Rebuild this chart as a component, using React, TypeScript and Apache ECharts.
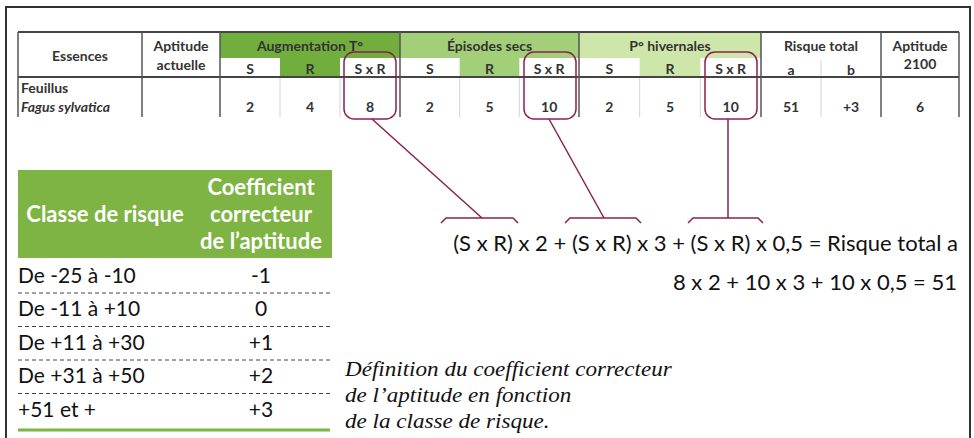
import React, { useEffect, useRef } from "react";
import * as echarts from "echarts";

// ---- data ----
const essenceLines = ["Feuillus", "Fagus sylvatica"];
const headerEssences = "Essences";
const headerAptitudeActuelle = ["Aptitude", "actuelle"];
const groups = ["Augmentation T°", "Épisodes secs", "P° hivernales"];
const subHeaders = ["S", "R", "S x R"];
const scoresAugmentation = [2, 4, 8];
const scoresEpisodes = [2, 5, 10];
const scoresHivernales = [2, 5, 10];
const riskHeader = "Risque total";
const riskLabels = ["a", "b"];
const riskValues = ["51", "+3"];
const aptitude2100Header = ["Aptitude", "2100"];
const aptitude2100Value = "6";
const weights = ["2", "3", "0,5"];
const riskTotalLabel = "Risque total a";
const classHeader = "Classe de risque";
const coefHeader = ["Coefficient", "correcteur", "de l\u2019aptitude"];
const riskClasses = ["De -25 à -10", "De -11 à +10", "De +11 à +30", "De +31 à +50", "+51 et +"];
const coefficients = ["-1", "0", "+1", "+2", "+3"];
const captionLines = [
  "Définition du coefficient correcteur",
  "de l\u2019aptitude en fonction",
  "de la classe de risque.",
];

// ---- styles ----
const groupColors = ["#72ae3e", "#a3cf78", "#cfe6ab"];
const maroon = "#8c2150";
const lineDark = "#444";
const textDark = "#333";
const tableFont = "Lato, 'Open Sans', sans-serif";
const green = "#7db443";

export default function App() {
  const ref = useRef<HTMLDivElement>(null);
  useEffect(() => {
    if (!ref.current) return;
    const chart = echarts.init(ref.current, undefined, { renderer: "svg" });
    const els: any[] = [];
    const txt = (x: number, y: number, text: string, o: any = {}) =>
      els.push({
        type: "text",
        x,
        y,
        scaleX: o.scaleX ?? 1,
        style: {
          text,
          fill: o.fill ?? textDark,
          fontSize: o.size ?? 14,
          fontFamily: o.family ?? tableFont,
          fontWeight: o.weight ?? "bold",
          fontStyle: o.style ?? "normal",
          textAlign: o.align ?? "center",
          textVerticalAlign: "middle",
        },
      });
    const line = (x1: number, y1: number, x2: number, y2: number, stroke: string, w: number, dash?: number[]) =>
      els.push({
        type: "line",
        shape: { x1, y1, x2, y2 },
        style: { stroke, lineWidth: w, lineDash: dash },
      });
    const rect = (x: number, y: number, w: number, h: number, fill: string) =>
      els.push({ type: "rect", shape: { x, y, width: w, height: h }, style: { fill } });

    // frame
    els.push({
      type: "polyline",
      shape: { points: [[6, 438], [6, 7], [970, 7], [970, 438]] },
      style: { stroke: "#333", lineWidth: 2, fill: null },
    });

    // ---- top table ----
    const top = 32, sub = 58, mid = 77, bot = 117;
    const groupX = [220, 400, 579, 761];
    const scoreSets = [scoresAugmentation, scoresEpisodes, scoresHivernales];
    groups.forEach((g, gi) => {
      const x0 = groupX[gi], x1 = groupX[gi + 1];
      const cw = (x1 - x0) / 3;
      rect(x0, top, x1 - x0, sub - top, groupColors[gi]);
      rect(x0 + cw, sub, cw, mid - sub, groupColors[gi]);
      txt((x0 + x1) / 2, 45, g);
      subHeaders.forEach((s, si) => {
        txt(x0 + cw * (si + 0.5), 68, s);
        txt(x0 + cw * (si + 0.5), 106, String(scoreSets[gi][si]));
        if (si > 0) line(x0 + cw * si, mid, x0 + cw * si, bot, "#d4d4d4", 1);
      });
    });
    // risk total
    txt(821, 45, riskHeader);
    riskLabels.forEach((l, i) => txt(761 + 30 + i * 60, 69, l));
    riskValues.forEach((v, i) => txt(761 + 30 + i * 60, 106, v));
    line(821, 60, 821, bot, "#d4d4d4", 1);
    // aptitude 2100
    txt(920, 45, aptitude2100Header[0]);
    txt(920, 63, aptitude2100Header[1]);
    txt(920, 106, aptitude2100Value);
    // left headers
    txt(80, 55, headerEssences);
    txt(181, 45, headerAptitudeActuelle[0]);
    txt(181, 64, headerAptitudeActuelle[1]);
    txt(21, 87, essenceLines[0], { align: "left" });
    txt(21, 106, essenceLines[1], { align: "left", style: "italic" });
    // lines
    line(18, top, 959, top, lineDark, 2);
    line(18, mid, 959, mid, lineDark, 2);
    [18, 142, 220, 400, 579, 761, 881, 959].forEach((x) => line(x, top, x, bot, "#555", 1.5));

    // rounded boxes
    [344, 524, 705].forEach((x) =>
      els.push({
        type: "rect",
        shape: { x, y: 52, width: 52, height: 67, r: 10 },
        style: { fill: null, stroke: maroon, lineWidth: 1.5 },
      })
    );
    // connectors + brackets
    const conn = [
      [[372, 119], [482, 218]],
      [[549, 119], [604, 218]],
      [[728, 119], [728, 218]],
    ];
    const brackets = [
      [441, 518],
      [565, 641],
      [688, 763],
    ];
    conn.forEach((c) =>
      els.push({ type: "polyline", shape: { points: c }, style: { stroke: maroon, lineWidth: 1.5, fill: null } })
    );
    brackets.forEach(([a, b]) =>
      els.push({
        type: "polyline",
        shape: { points: [[a, 223], [a + 5, 218], [b - 5, 218], [b, 223]] },
        style: { stroke: maroon, lineWidth: 1.5, fill: null },
      })
    );

    // formulas
    const f1 = weights.map((w) => "(S x R) x " + w).join(" + ") + " = " + riskTotalLabel;
    const products = [scoresAugmentation[2], scoresEpisodes[2], scoresHivernales[2]];
    const f2 = products.map((p, i) => p + " x " + weights[i]).join(" + ") + " = " + riskValues[0];
    txt(958, 242, f1, { size: 22, weight: "normal", align: "right", fill: "#111" });
    txt(957, 281, f2, { size: 22, weight: "normal", align: "right", fill: "#111" });

    // ---- left table ----
    rect(18, 170, 314, 88, green);
    txt(105, 213, classHeader, { size: 22, fill: "#fff" });
    coefHeader.forEach((t, i) => txt(261, 186 + i * 27, t, { size: 22, fill: "#fff" }));
    riskClasses.forEach((c, i) => {
      const y = 274 + i * 33.5;
      txt(18, y, c, { size: 21, weight: "normal", align: "left", fill: "#111" });
      txt(261, y, coefficients[i], { size: 21, weight: "normal", fill: "#111" });
      if (i < riskClasses.length - 1) line(18, y + 19, 332, y + 19, "#444", 1, [4, 3]);
    });
    line(18, 430, 330, 430, green, 3);

    // caption
    captionLines.forEach((t, i) =>
      txt(345, 369 + i * 26, t, {
        size: 21,
        weight: "normal",
        style: "italic",
        align: "left",
        scaleX: 1.1,
        family: "'Liberation Serif', 'DejaVu Serif', serif",
        fill: "#111",
      })
    );

    chart.setOption({
      animation: false,
      backgroundColor: "#fff",
      graphic: { elements: els },
    });
    return () => chart.dispose();
  }, []);
  return (
    <div
      ref={ref}
      style={{ position: "fixed", left: 0, top: 0, width: 974, height: 438, background: "#fff" }}
    />
  );
}
